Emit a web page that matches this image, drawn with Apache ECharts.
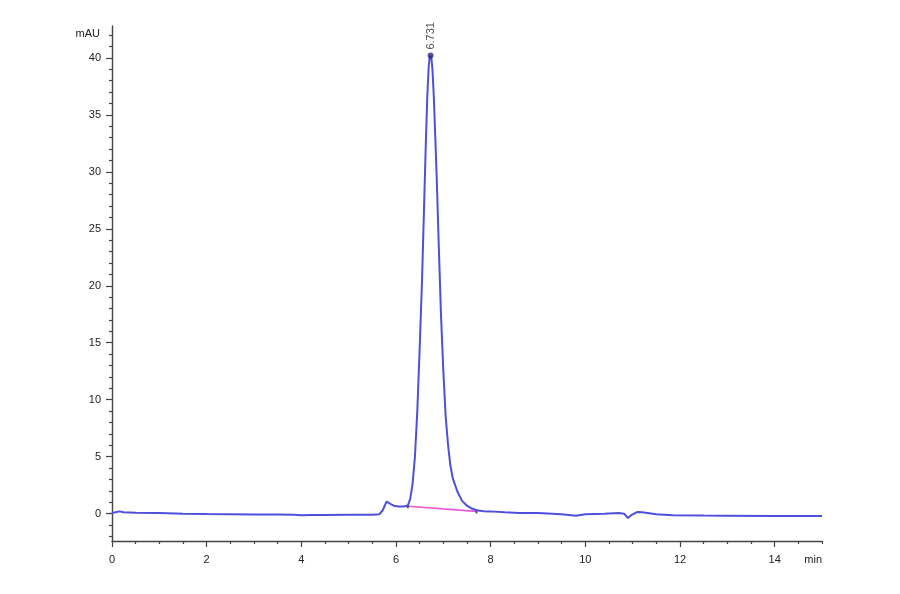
<!DOCTYPE html>
<html><head><meta charset="utf-8">
<script src="https://cdn.jsdelivr.net/npm/echarts@6/dist/echarts.min.js"></script>
<style>html,body{margin:0;padding:0;background:#fff}#c{width:900px;height:594px}</style>
</head><body><div id="c"></div>
<script>
const times = [0.00,0.10,0.15,0.25,0.5,1.0,1.5,2.0,2.5,3.0,3.5,3.85,4.0,4.2,4.5,5.0,5.5,5.65,5.72,5.80,5.88,5.95,6.05,6.15,6.25,6.30,6.35,6.40,6.45,6.50,6.55,6.60,6.63,6.66,6.69,6.71,6.73,6.75,6.77,6.80,6.83,6.86,6.90,6.95,7.00,7.05,7.10,7.15,7.20,7.30,7.40,7.50,7.60,7.70,7.85,8.0,8.3,8.6,9.0,9.5,9.8,10.0,10.4,10.7,10.82,10.90,10.98,11.1,11.2,11.5,11.85,12.5,13,14,15];
const signal = [0.05,0.15,0.2,0.12,0.08,0.05,0.0,-0.03,-0.05,-0.07,-0.08,-0.1,-0.15,-0.12,-0.12,-0.1,-0.1,-0.05,0.3,1.05,0.85,0.7,0.62,0.62,0.7,1.3,2.6,5.0,9.0,14.5,20.5,28,32.5,36.5,39.2,40.0,40.2,39.9,39.0,36.5,33.0,29.5,24,17.5,12.5,8.5,6.0,4.2,3.1,1.9,1.1,0.7,0.45,0.3,0.22,0.2,0.12,0.06,0.05,-0.05,-0.18,-0.05,0.0,0.05,0.0,-0.38,-0.1,0.15,0.12,-0.05,-0.15,-0.17,-0.18,-0.2,-0.2];
const peakTimes = [6.731];
const peakHeights = [40.2];
const baselineTimes = [6.25, 7.70];
const baselineValues = [0.65, 0.2];
const yLabels = [0,5,10,15,20,25,30,35,40];
const yMinor = [-2,-1,0,1,2,3,4,6,7,8,9,11,12,13,14,16,17,18,19,21,22,23,24,26,27,28,29,31,32,33,34,36,37,38,39,41,42];
const xLabels = [0,2,4,6,8,10,12,14];
const xMinor = [0.5,1,1.5,2.5,3,3.5,4.5,5,5.5,6.5,7,7.5,8.5,9,9.5,10.5,11,11.5,12.5,13,13.5,14.5,15];

const font = 'Liberation Sans, Arial, sans-serif';
const axisColor = '#444';
const chart = echarts.init(document.getElementById('c'));
const grid = {left:112, right:78, top:26, bottom:53};
chart.setOption({
  animation:false,
  grid:[grid, grid],
  xAxis:[
    {type:'value', gridIndex:0, min:0, max:15, splitLine:{show:false},
     axisLine:{onZero:false, lineStyle:{color:axisColor, width:1.4}},
     axisTick:{show:true, length:6, customValues:xLabels, lineStyle:{color:axisColor, width:1.2}},
     axisLabel:{customValues:xLabels, color:'#222', fontSize:11, fontFamily:font, margin:13},
     name:'min', nameLocation:'end', nameGap:0,
     nameTextStyle:{align:'right', verticalAlign:'top', padding:[13,0,0,0], color:'#222', fontSize:11, fontFamily:font}},
    {type:'value', gridIndex:1, min:0, max:15, position:'bottom', splitLine:{show:false},
     axisLine:{show:false, onZero:false},
     axisTick:{show:true, length:3, customValues:xMinor, lineStyle:{color:axisColor, width:1.2}},
     axisLabel:{show:false}}
  ],
  yAxis:[
    {type:'value', gridIndex:0, min:-2.4, max:42.8, splitLine:{show:false},
     axisLine:{show:true, lineStyle:{color:axisColor, width:1.4}},
     axisTick:{show:true, length:6, customValues:yLabels, lineStyle:{color:axisColor, width:1.2}},
     axisLabel:{customValues:yLabels, color:'#222', fontSize:11, fontFamily:font, margin:11},
     name:'mAU', nameLocation:'end', nameGap:-8,
     nameTextStyle:{align:'right', verticalAlign:'middle', padding:[0,12,0,0], color:'#222', fontSize:11, fontFamily:font}},
    {type:'value', gridIndex:1, min:-2.4, max:42.8, position:'left', splitLine:{show:false},
     axisLine:{show:false},
     axisTick:{show:true, length:3, customValues:yMinor, lineStyle:{color:axisColor, width:1.2}},
     axisLabel:{show:false}}
  ],
  series:[
    {type:'line', xAxisIndex:0, yAxisIndex:0, data:times.map((t,i)=>[t,signal[i]]),
     showSymbol:false, lineStyle:{color:'#4f4fdc', width:2}, z:3},
    {type:'line', xAxisIndex:0, yAxisIndex:0, data:baselineTimes.map((t,i)=>[t,baselineValues[i]]),
     symbol:'rect', symbolSize:[2,4], itemStyle:{color:'#554'}, lineStyle:{color:'#ee55dd', width:1.6}, z:2},
    {type:'scatter', xAxisIndex:0, yAxisIndex:0, data:peakTimes.map((t,i)=>[t,peakHeights[i]]),
     symbol:'circle', symbolSize:6, itemStyle:{color:'#2a2a80'}, z:4,
     label:{show:true, position:'top', distance:3, rotate:90, align:'left', verticalAlign:'middle',
       formatter:p=>p.value[0].toFixed(3), color:'#222', fontSize:11, fontFamily:font}}
  ]
});
</script></body></html>
